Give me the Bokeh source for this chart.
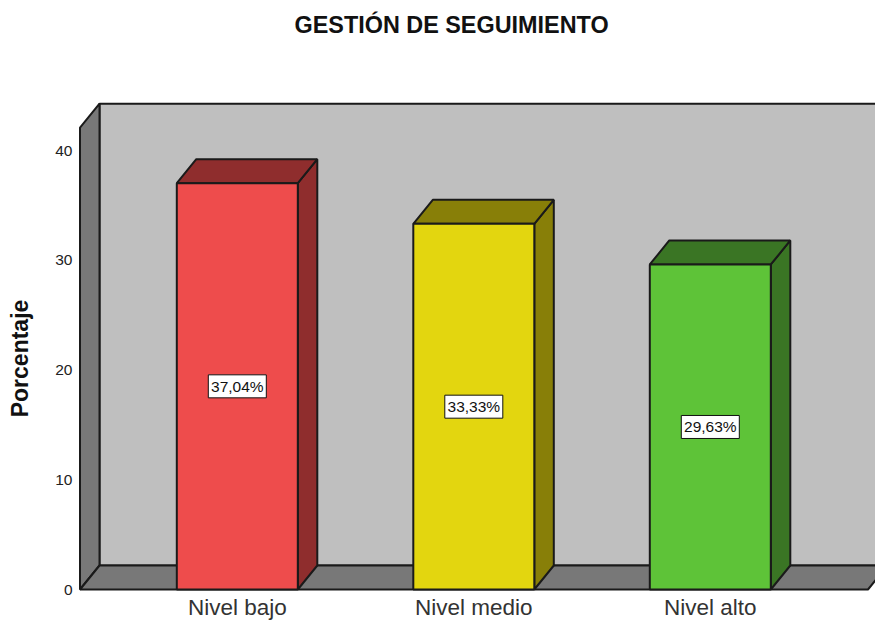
from bokeh.plotting import figure
from bokeh.models import ColumnDataSource, FixedTicker, Title
from bokeh.core.properties import value
from bokeh.embed import file_html
from bokeh.resources import INLINE

chart_title = "GESTIÓN DE SEGUIMIENTO"
categories = ["Nivel bajo", "Nivel medio", "Nivel alto"]
values = [37.04, 33.33, 29.63]
value_labels = ["37,04%", "33,33%", "29,63%"]
front_colors = ["#ee4c4c", "#e3d60f", "#5ec338"]
side_colors = ["#8f2d2d", "#887f08", "#3a7524"]
y_ticks = [0, 10, 20, 30, 40]
axis_top = 42.1   # top of the plotted scale

PX_X = 236.5      # pixels per category
PX_Y = 10.97      # pixels per percentage point
X0_PX = 236.8     # pixel of the first category
DX = 19.5 / PX_X  # 3D depth, x
DY = 24 / PX_Y    # 3D depth, y
BAR_W = 121 / PX_X
X_LO = (79.5 - X0_PX) / PX_X
X_HI = (867.5 - X0_PX) / PX_X

# frame in page pixels: left 78, right 875, top 95, bottom 621
xr = ((78 - X0_PX) / PX_X, (875 - X0_PX) / PX_X)
yr = ((589 - 621) / PX_Y, (589 - 95) / PX_Y)

p = figure(width=875, height=621, output_backend="svg", toolbar_location=None,
           x_range=xr, y_range=yr, min_border_left=78, min_border_right=0,
           min_border_top=95, min_border_bottom=0,
           background_fill_color="white", outline_line_color=None)
p.grid.visible = False

# walls
edge = dict(line_color="#1a1a1a", line_width=2)
p.patch([X_LO + DX, X_HI + DX, X_HI + DX, X_LO + DX],
        [DY, DY, axis_top + DY, axis_top + DY], fill_color="#bfbfbf", **edge)
p.patch([X_LO, X_LO + DX, X_LO + DX, X_LO],
        [0, DY, axis_top + DY, axis_top], fill_color="#787878", **edge)
p.patch([X_LO, X_HI, X_HI + DX, X_LO + DX],
        [0, 0, DY, DY], fill_color="#787878", **edge)

# bars
for i, v in enumerate(values):
    x0, x1 = i - BAR_W / 2, i + BAR_W / 2
    p.patch([x1, x1 + DX, x1 + DX, x1], [0, DY, v + DY, v], fill_color=side_colors[i], **edge)
    p.patch([x0, x1, x1 + DX, x0 + DX], [v, v, v + DY, v + DY], fill_color=side_colors[i], **edge)
    p.patch([x0, x1, x1, x0], [0, 0, v, v], fill_color=front_colors[i], **edge)

src = ColumnDataSource(dict(x=list(range(len(values))), y=[v / 2 for v in values], t=value_labels))
p.rect(x="x", y="y", source=src, width=58, height=23, width_units="screen", height_units="screen",
       fill_color="white", line_color="#111111", line_width=1)
p.text(x="x", y="y", text="t", source=src, text_align="center", text_baseline="middle",
       text_font=value("Liberation Sans"), text_font_size="15.5px", text_color="#111111")

p.xaxis.ticker = FixedTicker(ticks=list(range(len(categories))))
p.xaxis.major_label_overrides = {i: c for i, c in enumerate(categories)}
p.xaxis.fixed_location = 0
p.xaxis.major_label_text_font = "Liberation Sans"
p.xaxis.major_label_text_font_size = "22.5px"
p.xaxis.major_label_text_color = "#333333"
p.xaxis.major_label_standoff = 5
p.yaxis.ticker = FixedTicker(ticks=y_ticks)
p.yaxis.major_label_text_font = "Liberation Sans"
p.yaxis.major_label_text_font_size = "15.5px"
p.yaxis.major_label_text_color = "#222222"
p.yaxis.major_label_standoff = 6
p.yaxis.axis_label = "Porcentaje"
p.yaxis.axis_label_text_font = "Liberation Sans"
p.yaxis.axis_label_text_font_size = "23px"
p.yaxis.axis_label_text_font_style = "bold"
p.yaxis.axis_label_text_color = "#111111"
p.yaxis.axis_label_standoff = 19
for a in (p.xaxis[0], p.yaxis[0]):
    a.axis_line_color = None
    a.major_tick_line_color = None
    a.minor_tick_line_color = None
    a.major_tick_out = 0
    a.major_tick_in = 0
    a.minor_tick_out = 0
    a.minor_tick_in = 0

p.title.text = chart_title
p.title.text_font = "Liberation Sans"
p.title.text_font_size = "23.4px"
p.title.text_font_style = "bold"
p.title.text_color = "#111111"
p.title.align = "left"
p.title.offset = 216
p.title.standoff = 19
# empty spacer panel that lifts the title to its place at the top of the page
p.add_layout(Title(text=" ", text_font_size="16px", standoff=29), "above")

open("out.html", "w").write(file_html(p, INLINE))
